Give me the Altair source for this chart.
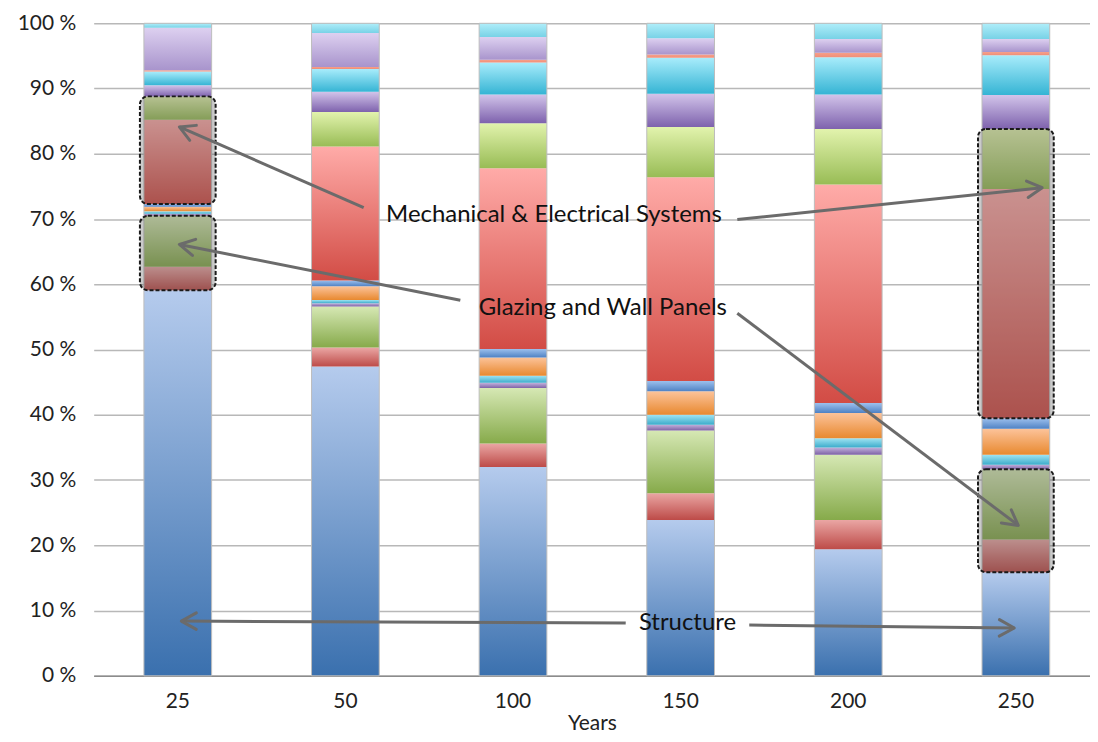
import math
import altair as alt
import pandas as pd

# ---------------- data (percent of total, bottom -> top) ----------------
years = ["25", "50", "100", "150", "200", "250"]

structure = [59.1, 47.4, 32.0, 23.9, 19.4, 15.9]
red1      = [3.6, 2.9, 3.6, 4.1, 4.5, 5.0]
green1    = [7.8, 6.3, 8.5, 9.6, 10.0, 10.8]
purple1   = [0.3, 0.5, 0.8, 0.9, 1.1, 0.7]
cyan1     = [0.4, 0.5, 1.1, 1.5, 1.4, 1.5]
orange1   = [0.7, 2.1, 2.8, 3.6, 3.9, 4.0]
blue2     = [0.4, 0.9, 1.3, 1.6, 1.5, 1.6]
red2      = [12.9, 20.5, 27.7, 31.2, 33.5, 35.2]
green2    = [3.6, 5.3, 6.9, 7.7, 8.5, 9.2]
purple2   = [1.7, 3.1, 4.4, 5.1, 5.3, 5.2]
cyan2     = [2.1, 3.5, 4.9, 5.5, 5.7, 6.1]
orange2   = [0.2, 0.3, 0.4, 0.5, 0.7, 0.5]
purple3   = [6.5, 5.2, 3.5, 2.5, 2.1, 2.0]
cyan3     = [0.7, 1.5, 2.1, 2.3, 2.4, 2.4]

series_names = ["structure", "red1", "green1", "purple1", "cyan1", "orange1", "blue2",
                "red2", "green2", "purple2", "cyan2", "orange2", "purple3", "cyan3"]
series_values = [structure, red1, green1, purple1, cyan1, orange1, blue2,
                 red2, green2, purple2, cyan2, orange2, purple3, cyan3]

# gradient colours (top, bottom) per series
series_colors = {
    "structure": ("#b5cbed", "#3a70ae"),
    "red1": ("#eaa6a4", "#bd4b48"),
    "green1": ("#d6e8b4", "#86aa4a"),
    "purple1": ("#c2b2dc", "#7e62a6"),
    "cyan1": ("#9fe3f2", "#3caccb"),
    "orange1": ("#fcc39a", "#e8892f"),
    "blue2": ("#9dc0ed", "#4f82c4"),
    "red2": ("#ffaba8", "#d24c45"),
    "green2": ("#e2f3ad", "#98bc55"),
    "purple2": ("#d2c4ea", "#7e62ad"),
    "cyan2": ("#a8ecfb", "#35b4d4"),
    "orange2": ("#f7a08a", "#ef8e78"),
    "purple3": ("#ddd0f0", "#a894cc"),
    "cyan3": ("#b0eefa", "#78d2e6"),
}

# highlighted groups (dashed boxes)
box_years = ["25", "250"]
box_groups = {"red1": "glazing", "green1": "glazing", "red2": "mech", "green2": "mech"}

rows = []
for order, (name, vals) in enumerate(zip(series_names, series_values)):
    for yr, v in zip(years, vals):
        rows.append({"year": yr, "series": name, "order": order, "value": v,
                     "box": box_groups.get(name, "")})
df = pd.DataFrame(rows)

FONT = "Lato"
W, H = 1000, 655

xscale = alt.Scale(paddingInner=0.596, paddingOuter=0.27, align=0.555)
xaxis = alt.Axis(labelAngle=0, labelFontSize=21, labelColor="#222222",
                 labelPadding=15, titleFontSize=21, titleFontWeight="normal",
                 titleColor="#222222", titlePadding=1, ticks=False,
                 domainColor="#8c8c8c", domainWidth=1.5, grid=False)
xenc = alt.X("year:N", sort=years, title="Years", scale=xscale, axis=xaxis)
yscale = alt.Scale(domain=[0, 1], nice=False)
yaxis = alt.Axis(values=[i / 10 for i in range(11)],
                 labelExpr="round(datum.value*100) + ' %'",
                 labelFontSize=21, labelColor="#222222", labelPadding=18,
                 ticks=False, domain=False, gridColor="#b8b8b8", gridWidth=1.5, title=None)

base = alt.Chart(df).transform_stack(
    stack="value", groupby=["year"], as_=["y0", "y1"], offset="normalize",
    sort=[alt.SortField("order", order="ascending")])

layers = []
for name in series_names:
    top, bot = series_colors[name]
    grad = alt.Gradient(gradient="linear",
                        stops=[alt.GradientStop(color=top, offset=0),
                               alt.GradientStop(color=bot, offset=1)],
                        x1=0, x2=0, y1=0, y2=1)
    layer = base.transform_filter(alt.datum.series == name).mark_bar(
        fill=grad, strokeWidth=0).encode(
        x=xenc,
        y=alt.Y("y0:Q", scale=yscale, axis=yaxis),
        y2="y1:Q")
    layers.append(layer)

# thin outline of each bar
outline = base.transform_aggregate(
    lo="min(y0)", hi="max(y1)", groupby=["year"]).mark_bar(
    fillOpacity=0, stroke="#bdbdbd", strokeWidth=1).encode(
    x=xenc, y=alt.Y("lo:Q", scale=yscale, axis=yaxis), y2="hi:Q")
layers.append(outline)

# highlight boxes
boxes = base.transform_filter(
    alt.FieldOneOfPredicate(field="year", oneOf=box_years)).transform_filter(
    alt.datum.box != "").transform_aggregate(
    lo="min(y0)", hi="max(y1)", groupby=["year", "box"]).mark_bar(
    size=76, fill="#5f5f5f", fillOpacity=0.33, stroke="#1a1a1a", strokeWidth=2,
    strokeDash=[4, 2], cornerRadius=8).encode(
    x=xenc, y=alt.Y("lo:Q", scale=yscale, axis=yaxis), y2="hi:Q")
layers.append(boxes)

# ---------------- annotations (pixel positions inside the plot) ----------------
OX, OY = 94, 22  # page position of plot origin
arrows = [
    ((365, 207), (180, 126)),
    ((740, 219), (1046, 187)),
    ((462, 300), (180, 244)),
    ((740, 313), (1022, 526)),
    ((628, 624), (182, 622)),
    ((752, 626), (1018, 629)),
]
labels = [
    ("Mechanical & Electrical Systems", 556, 214),
    ("Glazing and Wall Panels", 605, 308),
    ("Structure", 690, 624),
]
one = pd.DataFrame({"a": [0]})
ARROW_COLOR = "#6b6b6b"
for (sx, sy), (ex, ey) in arrows:
    layers.append(alt.Chart(one).mark_rule(color=ARROW_COLOR, strokeWidth=3).encode(
        x=alt.value(sx - OX), y=alt.value(sy - OY),
        x2=alt.value(ex - OX), y2=alt.value(ey - OY)))
    ang = math.degrees(math.atan2(ey - sy, ex - sx)) % 360
    layers.append(alt.Chart(one).mark_point(
        shape="M-1,-0.55L0,0L-1,0.55", size=900, filled=False, stroke=ARROW_COLOR,
        strokeWidth=3, opacity=1, angle=ang, strokeJoin="round", strokeCap="round").encode(
        x=alt.value(ex - OX), y=alt.value(ey - OY)))
for txt, tx, ty in labels:
    layers.append(alt.Chart(one).mark_text(
        text=txt, font=FONT, fontSize=24, color="#111111", align="center",
        baseline="middle").encode(x=alt.value(tx - OX), y=alt.value(ty - OY)))

chart = alt.layer(*layers).properties(
    width=W, height=H,
    autosize=alt.AutoSizeParams(type="none"),
    padding={"left": 86, "top": 14, "right": 0, "bottom": 57},
).configure(font=FONT).configure_view(stroke=None)

chart.save("out.html", embed_options={"renderer": "svg", "actions": False})
